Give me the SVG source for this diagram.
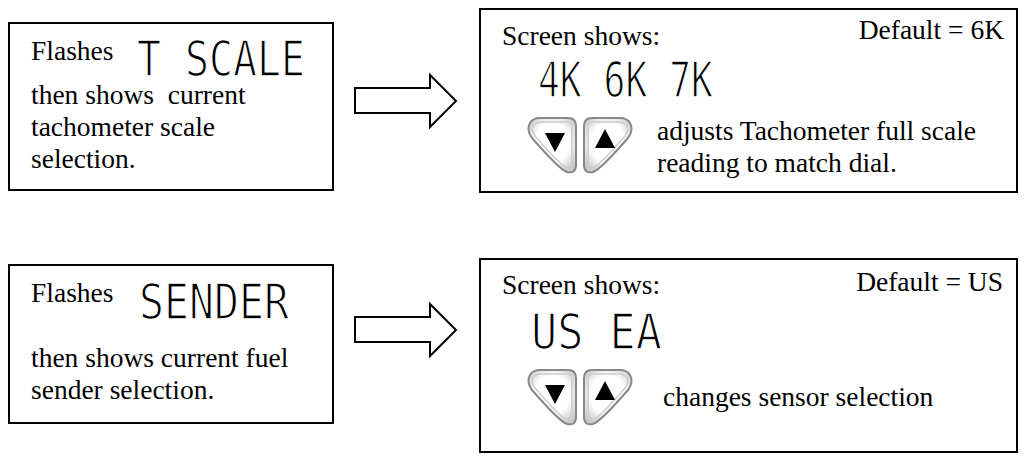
<svg xmlns="http://www.w3.org/2000/svg" width="1026" height="456" viewBox="0 0 1026 456">
<style>
.box{fill:#fff;stroke:#000;stroke-width:2}
.t{font-family:"Liberation Serif",serif;font-size:27.5px;fill:#000}
.seg{font-family:"DejaVu Sans Mono","Liberation Mono",monospace;font-size:50px;fill:#000;stroke:#fff;stroke-width:1.5}
.arr{fill:#fff;stroke:#000;stroke-width:2}
.btn{fill:url(#g);stroke:#888;stroke-width:2}
.btn2{fill:none;stroke:#ccc;stroke-width:1.5}
</style>
<defs>
<radialGradient id="g" cx="0.5" cy="0.45" r="0.6"><stop offset="0.6" stop-color="#fff"/><stop offset="1" stop-color="#ccc"/></radialGradient>
<g id="shape">
<path class="btn" d="M540,118 L568,118 Q576,118 576,126 L576,165 Q576,174 567,172 Q560,170 532,138 Q526,130 530,123 Q533,118 540,118 Z"/>
<path class="btn2" d="M541,122 L567,122 Q572,122 572,127 L572,163 Q572,169 566,167 Q560,165 535,136 Q531,130 533,126 Q536,122 541,122 Z"/>
</g>
<g id="pair">
<use href="#shape"/>
<polygon points="545,133 565,133 555,152" fill="#000"/>
<use href="#shape" transform="translate(1160,0) scale(-1,1)"/>
<polygon points="595,148 615,148 605,129" fill="#000"/>
</g>
<polygon id="arrow" class="arr" points="355,88 430,88 430,75 456,101 430,127 430,113 355,113"/>
</defs>
<g id="node1">
<rect class="box" x="9" y="23" width="324" height="167"/>
<text class="t" x="31" y="60">Flashes</text>
<text class="seg" x="137" y="76" textLength="168" lengthAdjust="spacingAndGlyphs">T SCALE</text>
<text class="t" x="31" y="104" xml:space="preserve">then shows  current</text>
<text class="t" x="31" y="136">tachometer scale</text>
<text class="t" x="31" y="168">selection.</text>
</g>
<g id="node2">
<rect class="box" x="480" y="9" width="537" height="183"/>
<text class="t" x="502" y="45">Screen shows:</text>
<text class="t" x="1004" y="39" text-anchor="end">Default = 6K</text>
<text class="seg" x="538" y="97" textLength="175" lengthAdjust="spacingAndGlyphs">4K 6K 7K</text>
<use href="#pair"/>
<text class="t" x="657" y="140">adjusts Tachometer full scale</text>
<text class="t" x="657" y="172">reading to match dial.</text>
</g>
<g id="node3">
<rect class="box" x="9" y="265" width="324" height="158"/>
<text class="t" x="31" y="302">Flashes</text>
<text class="seg" x="139" y="319" textLength="150" lengthAdjust="spacingAndGlyphs">SENDER</text>
<text class="t" x="31" y="367">then shows current fuel</text>
<text class="t" x="31" y="399">sender selection.</text>
</g>
<g id="node4">
<rect class="box" x="480" y="259" width="537" height="193"/>
<text class="t" x="502" y="294">Screen shows:</text>
<text class="t" x="1003" y="291" text-anchor="end">Default = US</text>
<text class="seg" x="531" y="349" textLength="131" lengthAdjust="spacingAndGlyphs">US EA</text>
<use href="#pair" transform="translate(0,252)"/>
<text class="t" x="663" y="406">changes sensor selection</text>
</g>
<g id="connectors">
<use href="#arrow"/>
<use href="#arrow" transform="translate(0,229)"/>
</g>
</svg>
